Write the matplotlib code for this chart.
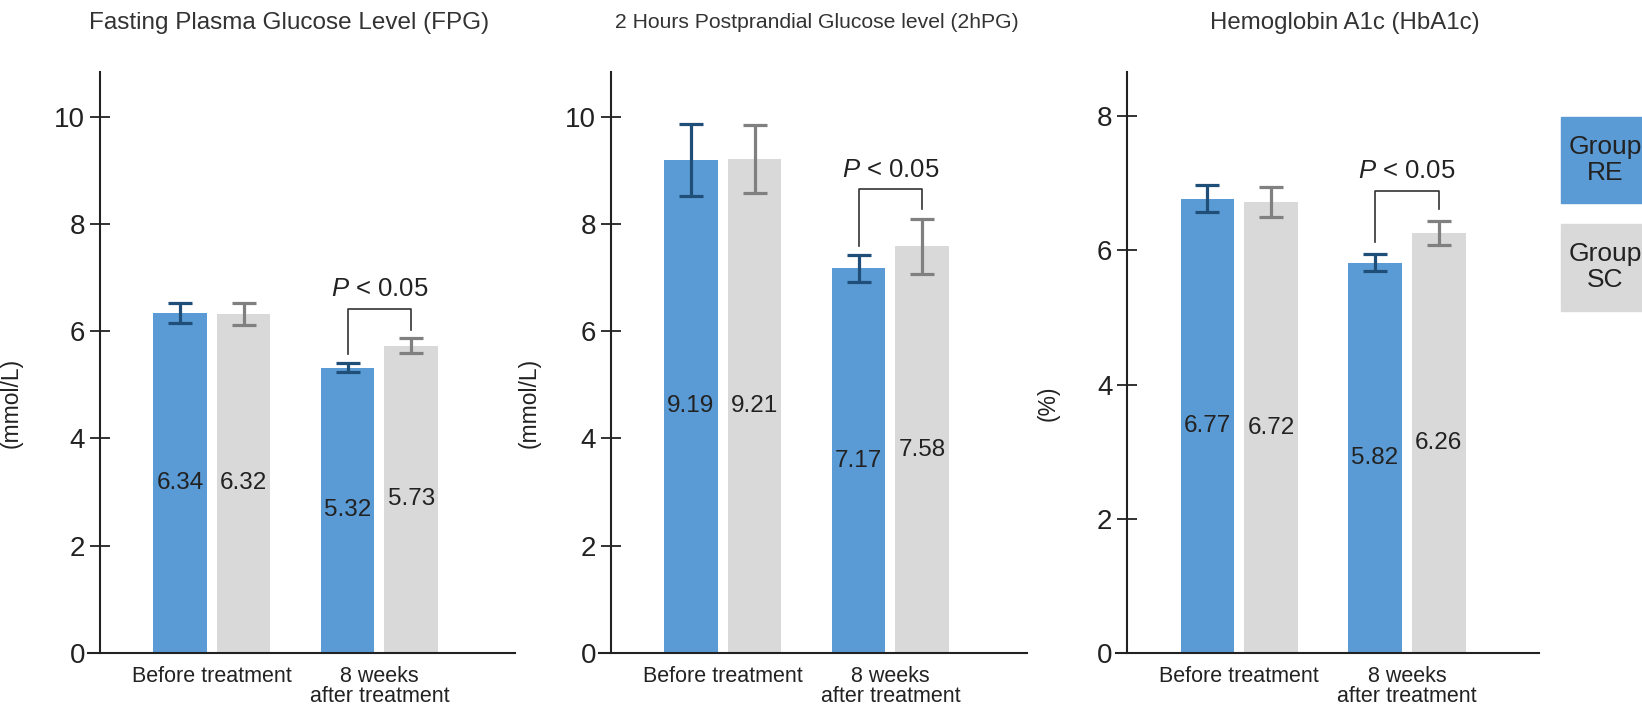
import numpy as np
import matplotlib
matplotlib.use("Agg")
import matplotlib.pyplot as plt
from matplotlib.patches import Rectangle

plt.rcParams['font.family'] = ['Liberation Sans', 'DejaVu Sans']
plt.rcParams['mathtext.fontset'] = 'custom'
plt.rcParams['mathtext.it'] = 'Liberation Sans:italic'
plt.rcParams['mathtext.rm'] = 'Liberation Sans'

# data
groups = ['Before treatment', '8 weeks\nafter treatment']
titles = ['Fasting Plasma Glucose Level (FPG)',
          '2 Hours Postprandial Glucose level (2hPG)',
          'Hemoglobin A1c (HbA1c)']
units = ['(mmol/L)', '(mmol/L)', '(%)']
re_mean = [[6.34, 5.32], [9.19, 7.17], [6.77, 5.82]]
sc_mean = [[6.32, 5.73], [9.21, 7.58], [6.72, 6.26]]
re_err = [[0.19, 0.08], [0.67, 0.25], [0.20, 0.13]]
sc_err = [[0.21, 0.145], [0.64, 0.51], [0.22, 0.18]]
yticks = [[0, 2, 4, 6, 8, 10], [0, 2, 4, 6, 8, 10], [0, 2, 4, 6, 8]]
ytop = [10.83, 10.83, 8.66]
# p-value bracket: top, left leg end, right leg end, text y
brackets = [[6.41, 5.57, 6.03, 6.79], [8.64, 7.59, 8.28, 9.0], [6.88, 6.12, 6.62, 7.19]]

blue = '#5b9bd5'
grey = '#d9d9d9'
blue_err = '#1f4e79'
grey_err = '#808080'
txt = '#222222'

W, H = 1642, 708
fig = plt.figure(figsize=(W / 100, H / 100), dpi=100)

# axes extents in pixels: (left edge, y-axis, right edge, title centre, ylabel x)
panels = [(88, 99.5, 515, 289, 23), (599, 610.5, 1027, 817, 541), (1115.5, 1127, 1539, 1345, 1060)]
title_size = [17.5, 15.2, 17.3]
bot_px, top_px = 653, 72

x = np.arange(len(groups))
w = 0.32
off = 0.19

for i in range(3):
    left, yax, right, tx, lx = panels[i]
    ax = fig.add_axes([left / W, 1 - bot_px / H, (right - left) / W, (bot_px - top_px) / H])
    px_per_unit = 167.6
    xl = -0.67 - (yax - left) / px_per_unit
    xr = xl + (right - left) / px_per_unit
    ax.set_xlim(xl, xr)
    ax.set_ylim(0, ytop[i])

    ax.bar(x - off, re_mean[i], w, color=blue, zorder=2)
    ax.bar(x + off, sc_mean[i], w, color=grey, zorder=2)
    ax.errorbar(x - off, re_mean[i], yerr=re_err[i], fmt='none', ecolor=blue_err,
                elinewidth=2.3, capsize=8.3, capthick=2.3, zorder=3)
    ax.errorbar(x + off, sc_mean[i], yerr=sc_err[i], fmt='none', ecolor=grey_err,
                elinewidth=2.3, capsize=8.3, capthick=2.3, zorder=3)

    for j in range(len(groups)):
        ax.text(x[j] - off, re_mean[i][j] / 2, f'{re_mean[i][j]:.2f}', ha='center', va='center',
                fontsize=17.5, color=txt, zorder=4)
        ax.text(x[j] + off, sc_mean[i][j] / 2, f'{sc_mean[i][j]:.2f}', ha='center', va='center',
                fontsize=17.5, color=txt, zorder=4)

    btop, bl, br, ty = brackets[i]
    ax.plot([x[1] - off, x[1] - off, x[1] + off, x[1] + off], [bl, btop, btop, br],
            color='#333333', lw=1.2, zorder=3)
    ax.text(x[1], ty, '$P$ < 0.05', ha='center', va='center', fontsize=18.5, color=txt)

    ax.spines['top'].set_visible(False)
    ax.spines['right'].set_visible(False)
    ax.spines['left'].set_position(('data', -0.67))
    for s in ['left', 'bottom']:
        ax.spines[s].set_linewidth(1.5)
        ax.spines[s].set_color('#222222')
    ax.set_yticks(yticks[i])
    ax.tick_params(axis='y', direction='inout', length=15, width=1.3, labelsize=20,
                   colors='#222222', pad=3)
    ax.set_xticks(x)
    ax.set_xticklabels(groups, fontsize=15.5, color=txt, linespacing=1.0)
    ax.tick_params(axis='x', length=0, pad=9)

    ax.set_ylabel(units[i], fontsize=16.5, color=txt)
    ax.yaxis.set_label_coords((lx - left) / (right - left), 0.43)

    fig.text(tx / W, 1 - 23 / H, titles[i], ha='center', va='center', fontsize=title_size[i],
             color='#333333')

# legend boxes
fig.patches.append(Rectangle((1561 / W, 1 - 203 / H), 90 / W, 86 / H, transform=fig.transFigure,
                             color=blue, zorder=1))
fig.patches.append(Rectangle((1561 / W, 1 - 311 / H), 90 / W, 87 / H, transform=fig.transFigure,
                             color=grey, zorder=1))
fig.text(1605 / W, 1 - 160 / H, 'Group\nRE', ha='center', va='center', fontsize=19, color=txt,
         linespacing=1.1)
fig.text(1605 / W, 1 - 267 / H, 'Group\nSC', ha='center', va='center', fontsize=19, color=txt,
         linespacing=1.1)

fig.savefig('out.png', dpi=100)
